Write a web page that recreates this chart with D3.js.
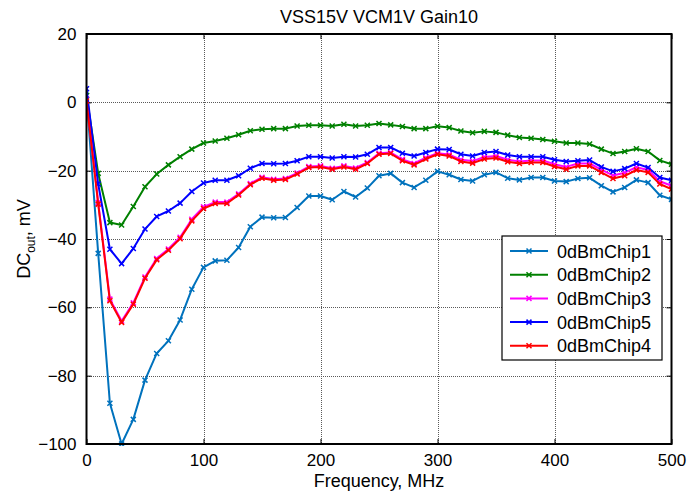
<!DOCTYPE html>
<html>
<head>
<meta charset="utf-8">
<script src="https://cdn.jsdelivr.net/npm/d3@7"></script>
<style>
  body { margin: 0; background: #fff; }
  svg text { font-family: "Liberation Sans", Arial, Helvetica, sans-serif; fill: #000; }
  .grid line { stroke: #5a5a5a; stroke-dasharray: 1,1; shape-rendering: crispEdges; }
</style>
</head>
<body>
<svg id="chart" width="688" height="492"></svg>
<script>
// ---------- data (10 MHz steps) ----------
const freq = d3.range(0, 501, 10);

const chip1 = [2, -44.2, -88.1, -100, -92.8, -81.3, -73.5, -69.8, -63.7, -54.7,
  -48.3, -46.4, -46.2, -42.5, -36.4, -33.6, -33.8, -33.7, -30.8, -27.4,
  -27.4, -28.5, -26.1, -27.7, -25.1, -21.5, -20.8, -23.5, -24.9, -22.8,
  -20.2, -21.2, -22.6, -23.0, -21.2, -20.5, -22.2, -22.7, -22.0, -22.0,
  -23.0, -23.2, -22.3, -22.1, -24.4, -26.2, -24.9, -22.7, -23.5, -27.2, -28.4];

const chip2 = [2, -20.8, -35.2, -35.9, -30.5, -24.7, -21.0, -18.3, -15.9, -13.7,
  -11.9, -11.3, -10.5, -9.5, -8.3, -7.9, -7.7, -7.7, -6.9, -6.7,
  -6.7, -6.9, -6.4, -6.9, -6.7, -6.2, -6.6, -7.1, -7.7, -7.7,
  -7.0, -7.4, -8.4, -8.9, -8.5, -8.8, -9.6, -10.3, -10.5, -10.9,
  -11.4, -11.9, -11.9, -12.2, -13.7, -15.0, -14.4, -13.6, -14.4, -17.0, -18.1];

const chip3 = [1, -29.3, -57.6, -64.0, -58.7, -51.1, -45.7, -42.9, -39.5, -34.2,
  -30.6, -29.2, -29.2, -26.8, -23.8, -21.9, -22.5, -22.3, -20.7, -18.8,
  -18.6, -19.3, -18.6, -19.2, -17.6, -14.9, -14.7, -16.7, -17.9, -16.2,
  -14.9, -15.3, -16.8, -17.2, -16.0, -15.7, -16.8, -17.3, -17.0, -17.0,
  -18.1, -18.9, -17.9, -17.9, -19.7, -21.4, -20.6, -19.0, -19.8, -23.1, -24.4];

const chip5 = [4, -23.9, -43.0, -47.2, -42.8, -37.1, -33.4, -31.8, -29.5, -26.1,
  -23.6, -22.8, -22.8, -21.5, -19.3, -17.9, -18.0, -17.9, -17.1, -15.9,
  -15.9, -16.3, -15.9, -16.0, -15.2, -13.2, -13.2, -14.9, -15.7, -14.7,
  -13.7, -13.8, -15.2, -15.7, -14.7, -14.4, -15.4, -15.9, -15.9, -15.9,
  -16.8, -17.3, -17.1, -16.9, -18.9, -20.2, -19.4, -17.9, -19.1, -22.0, -22.8];

const chip4 = [0.4, -29.8, -58.1, -64.4, -59.1, -51.5, -46.1, -43.3, -39.9, -34.7,
  -31.1, -29.6, -29.6, -27.1, -24.1, -22.2, -22.8, -22.6, -21.0, -19.1,
  -18.9, -19.6, -18.9, -19.6, -17.9, -15.2, -15.0, -17.1, -18.3, -16.6,
  -15.2, -15.7, -17.3, -17.8, -16.6, -16.3, -17.4, -17.9, -17.6, -17.6,
  -18.8, -19.6, -18.6, -18.6, -20.5, -22.3, -21.5, -19.8, -20.5, -23.9, -25.4];

const seriesNames = ['0dBmChip1', '0dBmChip2', '0dBmChip3', '0dBmChip5', '0dBmChip4'];
const seriesValues = [chip1, chip2, chip3, chip5, chip4];
const seriesColors = ['#0072bd', '#008000', '#ff00ff', '#0000ff', '#ff0000'];

const xTicks = [0, 100, 200, 300, 400, 500];
const yTicks = [-100, -80, -60, -40, -20, 0, 20];

// ---------- layout ----------
const margin = {left: 86.5, right: 16.5, top: 34, bottom: 48};
const W = 688, H = 492;

const svg = d3.select('#chart');

const x = d3.scaleLinear().domain([0, 500]).range([margin.left, W - margin.right]);
const y = d3.scaleLinear().domain([-100, 20]).range([H - margin.bottom, margin.top]);

//------ grid
const grid = svg.append('g').attr('class', 'grid');
grid.selectAll('.gx').data(xTicks.slice(1, -1)).enter().append('line')
  .attr('x1', d => Math.round(x(d)) + 0.5).attr('x2', d => Math.round(x(d)) + 0.5)
  .attr('y1', y(20)).attr('y2', y(-100));
grid.selectAll('.gy').data(yTicks.slice(1, -1)).enter().append('line')
  .attr('y1', d => Math.round(y(d)) + 0.5).attr('y2', d => Math.round(y(d)) + 0.5)
  .attr('x1', x(0)).attr('x2', x(500));

//------ axes (MATLAB style: inner ticks on all four sides)
const tickLen = 5;
const axB = d3.axisBottom(x).tickValues(xTicks).tickSizeInner(-tickLen).tickSizeOuter(0).tickPadding(10);
const axT = d3.axisTop(x).tickValues(xTicks).tickSizeInner(-tickLen).tickSizeOuter(0).tickFormat('');
const axL = d3.axisLeft(y).tickValues(yTicks).tickSizeInner(-tickLen).tickSizeOuter(0).tickPadding(10);
const axR = d3.axisRight(y).tickValues(yTicks).tickSizeInner(-tickLen).tickSizeOuter(0).tickFormat('');

function styleAxis(g) {
  g.select('.domain').remove();
  g.selectAll('.tick line').attr('stroke', '#000').attr('stroke-width', 1);
  g.selectAll('.tick text').style('font-size', '17px').attr('fill', '#000');
}

svg.append('g').attr('transform', `translate(0,${y(-100)})`).call(axB).call(styleAxis);
svg.append('g').attr('transform', `translate(0,${y(20)})`).call(axT).call(styleAxis);
svg.append('g').attr('transform', `translate(${x(0)},0)`).call(axL).call(styleAxis);
svg.append('g').attr('transform', `translate(${x(500)},0)`).call(axR).call(styleAxis);

//------ series
const line = d3.line().x((d, i) => x(freq[i])).y(d => y(d));
svg.append('clipPath').attr('id', 'plotclip').append('rect')
  .attr('x', x(0)).attr('y', y(20)).attr('width', x(500) - x(0)).attr('height', y(-100) - y(20) + 2);

const plot = svg.append('g').attr('clip-path', 'url(#plotclip)');
const ms = 2.5;
function xMarker(sel, color) {
  sel.attr('d', `M${-ms},${-ms}L${ms},${ms}M${-ms},${ms}L${ms},${-ms}`)
    .attr('stroke', color).attr('stroke-width', 1.5).attr('fill', 'none');
}

seriesValues.forEach((vals, k) => {
  const g = plot.append('g');
  g.append('path').datum(vals)
    .attr('d', line)
    .attr('fill', 'none')
    .attr('stroke', seriesColors[k])
    .attr('stroke-width', 2)
    .attr('stroke-linejoin', 'round');
  g.selectAll('path.mk').data(vals).enter().append('path')
    .attr('class', 'mk')
    .attr('transform', (d, i) => `translate(${x(freq[i])},${y(d)})`)
    .call(xMarker, seriesColors[k]);
});

//------ box
svg.append('rect')
  .attr('x', x(0)).attr('y', y(20))
  .attr('width', x(500) - x(0)).attr('height', y(-100) - y(20))
  .attr('fill', 'none').attr('stroke', '#000').attr('stroke-width', 2);

//------ titles
svg.append('text').attr('x', (x(0) + x(500)) / 2).attr('y', 23)
  .attr('text-anchor', 'middle').style('font-size', '18px')
  .text('VSS15V VCM1V Gain10');

svg.append('text').attr('x', (x(0) + x(500)) / 2).attr('y', 487)
  .attr('text-anchor', 'middle').style('font-size', '18px')
  .text('Frequency, MHz');

const yl = svg.append('text')
  .attr('transform', `translate(30,${(y(20) + y(-100)) / 2}) rotate(-90)`)
  .attr('text-anchor', 'middle').style('font-size', '18px');
yl.append('tspan').text('DC');
yl.append('tspan').attr('dy', 5).style('font-size', '12px').text('out');
yl.append('tspan').attr('dy', -5).text(', mV');

//------ legend
const lg = svg.append('g').attr('transform', 'translate(502,236)');
lg.append('rect').attr('width', 160).attr('height', 124)
  .attr('fill', '#fff').attr('stroke', '#000').attr('stroke-width', 1.2);
seriesNames.forEach((name, k) => {
  const cy = 15 + k * 23.7;
  lg.append('line').attr('x1', 8).attr('x2', 46).attr('y1', cy).attr('y2', cy)
    .attr('stroke', seriesColors[k]).attr('stroke-width', 2);
  lg.append('path').attr('transform', `translate(27,${cy})`).call(xMarker, seriesColors[k]);
  lg.append('text').attr('x', 55).attr('y', cy + 6.5).style('font-size', '18px').text(name);
});
</script>
</body>
</html>
